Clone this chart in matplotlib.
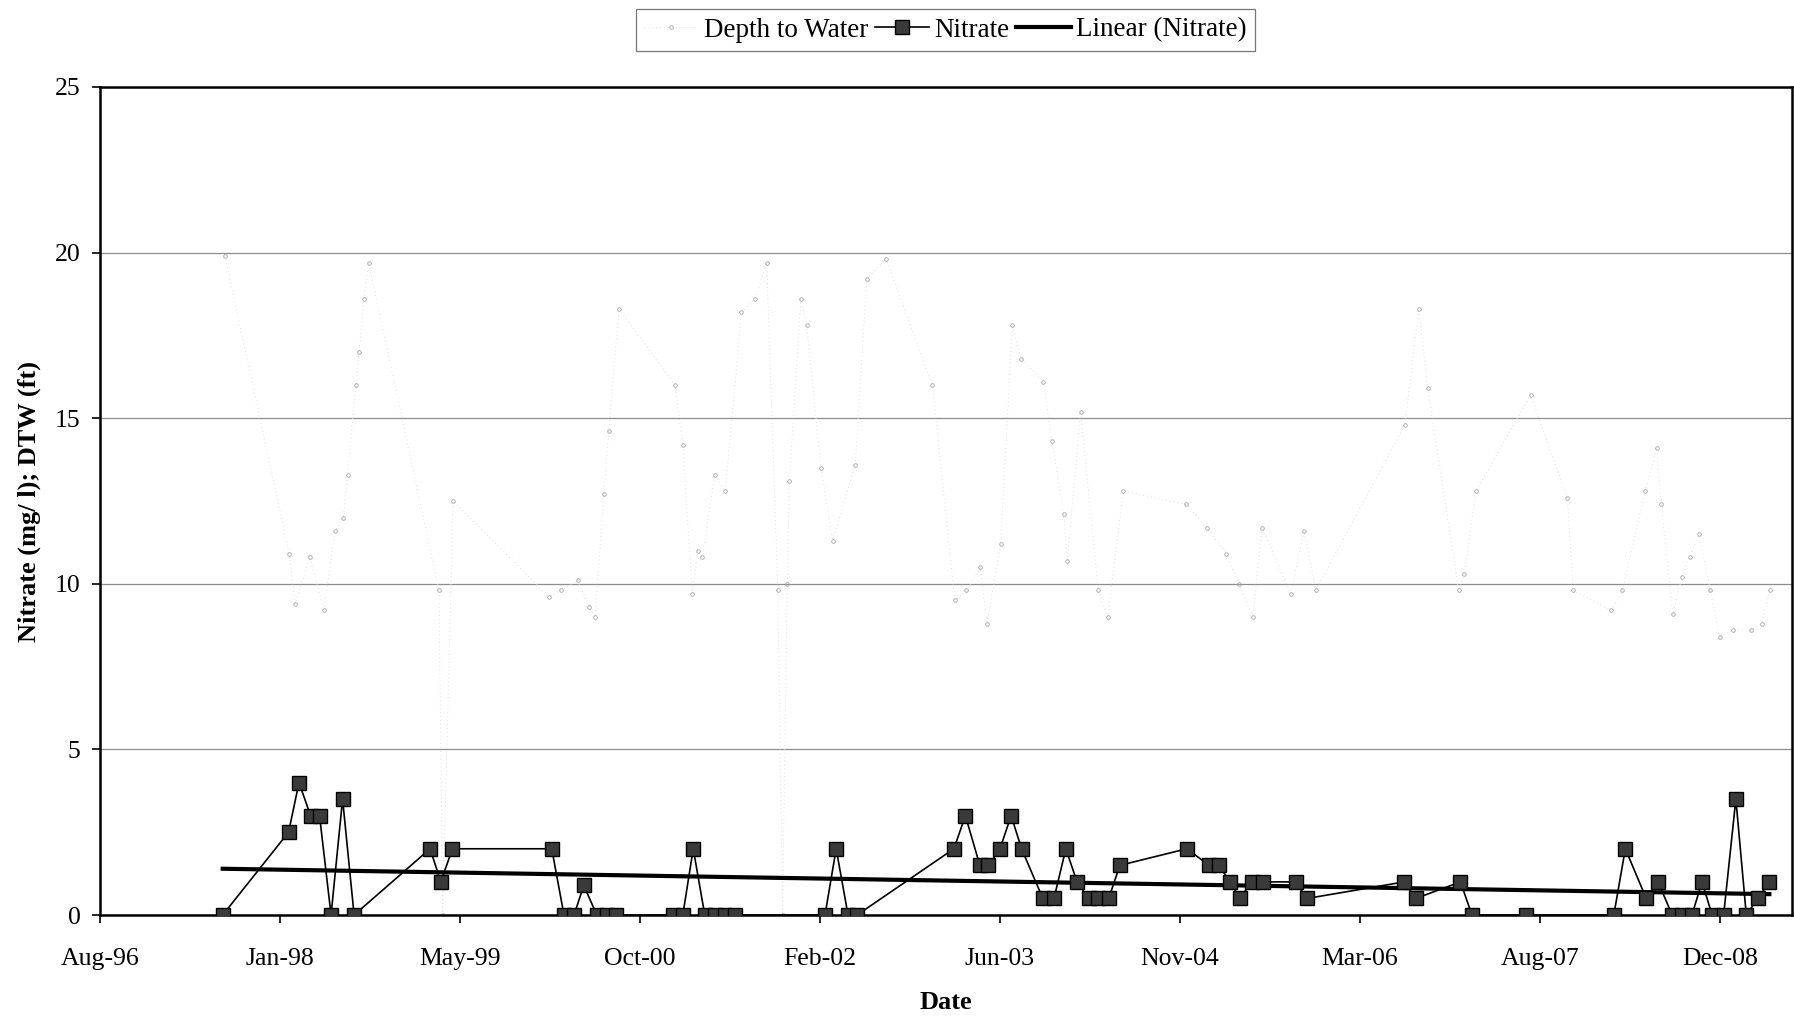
import matplotlib
matplotlib.use("Agg")
import matplotlib.pyplot as plt
import matplotlib.dates as mdates
import numpy as np
import pandas as pd

plt.rcParams['font.family'] = ['Liberation Serif', 'DejaVu Serif']

# nitrate samples (mg/l)
nitrate_dates = [
    '1997-07-30', '1998-01-29', '1998-02-27', '1998-03-31', '1998-04-25', '1998-05-27',
    '1998-06-28', '1998-07-30', '1999-02-26', '1999-03-28', '1999-04-29', '2000-01-30',
    '2000-03-04', '2000-04-01', '2000-04-28', '2000-06-03', '2000-07-01', '2000-07-26',
    '2001-01-01', '2001-01-28', '2001-02-26', '2001-03-30', '2001-04-27', '2001-05-24',
    '2001-06-22', '2002-02-27', '2002-03-30', '2002-05-02', '2002-05-27', '2003-02-20',
    '2003-03-24', '2003-05-03', '2003-05-27', '2003-06-28', '2003-07-29', '2003-08-27',
    '2003-10-25', '2003-11-25', '2003-12-28', '2004-01-28', '2004-02-29', '2004-03-26',
    '2004-04-25', '2004-05-26', '2004-11-28', '2005-01-29', '2005-02-24', '2005-03-29',
    '2005-04-24', '2005-05-27', '2005-06-27', '2005-09-26', '2005-10-28', '2006-07-25',
    '2006-08-26', '2006-12-28', '2007-01-29', '2007-06-28', '2008-02-27', '2008-03-30',
    '2008-05-27', '2008-06-29', '2008-08-07', '2008-09-03', '2008-10-01', '2008-10-29',
    '2008-11-26', '2008-12-28', '2009-01-31', '2009-03-01', '2009-04-02', '2009-05-04',
]
nitrate = [
    0, 2.5, 4.0, 3.0, 3.0, 0,
    3.5, 0, 2.0, 1.0, 2.0, 2.0,
    0, 0, 0.9, 0, 0, 0,
    0, 0, 2.0, 0, 0, 0,
    0, 0, 2.0, 0, 0, 2.0,
    3.0, 1.5, 1.5, 2.0, 3.0, 2.0,
    0.5, 0.5, 2.0, 1.0, 0.5, 0.5,
    0.5, 1.5, 2.0, 1.5, 1.5, 1.0,
    0.5, 1.0, 1.0, 1.0, 0.5, 1.0,
    0.5, 1.0, 0, 0, 0, 2.0,
    0.5, 1.0, 0, 0, 0, 1.0,
    0, 0, 3.5, 0, 0.5, 1.0,
]

# depth to water readings (ft)
dtw_dates = [
    '1997-08-05', '1998-01-31', '1998-02-16', '1998-03-29', '1998-05-07', '1998-06-07',
    '1998-06-30', '1998-07-12', '1998-08-04', '1998-08-13', '1998-08-26', '1998-09-08',
    '1999-03-23', '1999-04-02', '1999-05-01', '2000-01-23', '2000-02-24', '2000-04-11',
    '2000-05-13', '2000-05-29', '2000-06-23', '2000-07-06', '2000-08-04', '2001-01-06',
    '2001-01-28', '2001-02-23', '2001-03-11', '2001-03-23', '2001-04-27', '2001-05-26',
    '2001-07-10', '2001-08-17', '2001-09-18', '2001-10-19', '2001-11-01', '2001-11-14',
    '2001-11-20', '2001-12-22', '2002-01-07', '2002-02-16', '2002-03-20', '2002-05-22',
    '2002-06-23', '2002-08-16', '2002-12-22', '2003-02-23', '2003-03-27', '2003-05-04',
    '2003-05-23', '2003-06-30', '2003-08-01', '2003-08-26', '2003-10-26', '2003-11-20',
    '2003-12-22', '2004-01-01', '2004-02-07', '2004-03-27', '2004-04-22', '2004-06-05',
    '2004-11-27', '2005-01-23', '2005-03-18', '2005-04-22', '2005-05-30', '2005-06-25',
    '2005-09-12', '2005-10-20', '2005-11-21', '2006-07-27', '2006-09-03', '2006-09-28',
    '2006-12-23', '2007-01-08', '2007-02-09', '2007-07-11', '2007-10-21', '2007-11-06',
    '2008-02-19', '2008-03-22', '2008-05-24', '2008-06-25', '2008-07-08', '2008-08-09',
    '2008-09-03', '2008-09-25', '2008-10-20', '2008-11-21', '2008-12-17', '2009-01-24',
    '2009-03-13', '2009-04-13', '2009-05-05',
]
dtw = [
    19.9, 10.9, 9.4, 10.8, 9.2, 11.6,
    12.0, 13.3, 16.0, 17.0, 18.6, 19.7,
    9.8, 0, 12.5, 9.6, 9.8, 10.1,
    9.3, 9.0, 12.7, 14.6, 18.3, 16.0,
    14.2, 9.7, 11.0, 10.8, 13.3, 12.8,
    18.2, 18.6, 19.7, 9.8, 0, 10.0,
    13.1, 18.6, 17.8, 13.5, 11.3, 13.6,
    19.2, 19.8, 16.0, 9.5, 9.8, 10.5,
    8.8, 11.2, 17.8, 16.8, 16.1, 14.3,
    12.1, 10.7, 15.2, 9.8, 9.0, 12.8,
    12.4, 11.7, 10.9, 10.0, 9.0, 11.7,
    9.7, 11.6, 9.8, 14.8, 18.3, 15.9,
    9.8, 10.3, 12.8, 15.7, 12.6, 9.8,
    9.2, 9.8, 12.8, 14.1, 12.4, 9.1,
    10.2, 10.8, 11.5, 9.8, 8.4, 8.6,
    8.6, 8.8, 9.8,
]

y_ticks = [0, 5, 10, 15, 20, 25]

nd = mdates.date2num(pd.to_datetime(nitrate_dates))
dd = mdates.date2num(pd.to_datetime(dtw_dates))

# least squares trend for nitrate
slope, icpt = np.polyfit(nd, nitrate, 1)
trend_x = np.array([nd[0], nd[-1]])
trend_y = slope * trend_x + icpt

fig = plt.figure(figsize=(17.94, 10.21), dpi=100)
ax = fig.add_axes([0.0557, 0.1038, 0.9432, 0.811])

# very faint dotted DTW trace, readings shown as small grey dots
ax.plot(dd, dtw, color='#e0e0e0', lw=0.7, ls=(0, (1, 3)), marker='o', markersize=2.6,
        markerfacecolor='none', markeredgecolor='#a6a6a6', markeredgewidth=0.6,
        label='Depth to Water', zorder=2)
ax.plot(nd, nitrate, color='black', lw=1.2, marker='s', markersize=10,
        markerfacecolor='#3a3a3a', markeredgecolor='black', markeredgewidth=1.0,
        label='Nitrate', zorder=4)
ax.plot(trend_x, trend_y, color='black', lw=3.0, label='Linear (Nitrate)', zorder=3)

start = mdates.date2num(pd.Timestamp('1996-08-23'))
end = mdates.date2num(pd.Timestamp('2009-07-06'))
ax.set_xlim(start, end)
ax.set_xticks(np.arange(start, end + 1, 500))
ax.xaxis.set_major_formatter(mdates.DateFormatter('%b-%y'))
ax.set_ylim(0, 25)
ax.set_yticks(y_ticks)

ax.grid(axis='y', color='#8c8c8c', lw=0.9)
ax.set_axisbelow(True)
for s in ax.spines.values():
    s.set_linewidth(1.8)
    s.set_color('black')

ax.tick_params(axis='x', direction='out', length=6, width=1.2, pad=18, labelsize=18.5)
ax.tick_params(axis='y', direction='out', length=6, width=1.2, pad=8, labelsize=18.5)

ax.set_xlabel('Date', fontsize=19, fontweight='bold')
ax.xaxis.set_label_coords(0.5, -0.092)
ax.set_ylabel('Nitrate (mg/ l); DTW (ft)', fontsize=19, fontweight='bold')
ax.yaxis.set_label_coords(-0.035, 0.5)

leg = fig.legend(loc='upper center', bbox_to_anchor=(0.527, 1.004), ncol=3,
                 fontsize=19.5, frameon=True, fancybox=False, handlelength=2.0,
                 handletextpad=0.2, columnspacing=0.25, borderpad=0.3)
leg.get_frame().set_edgecolor('#555555')
leg.get_frame().set_linewidth(0.9)

fig.savefig('out.png', dpi=100)
